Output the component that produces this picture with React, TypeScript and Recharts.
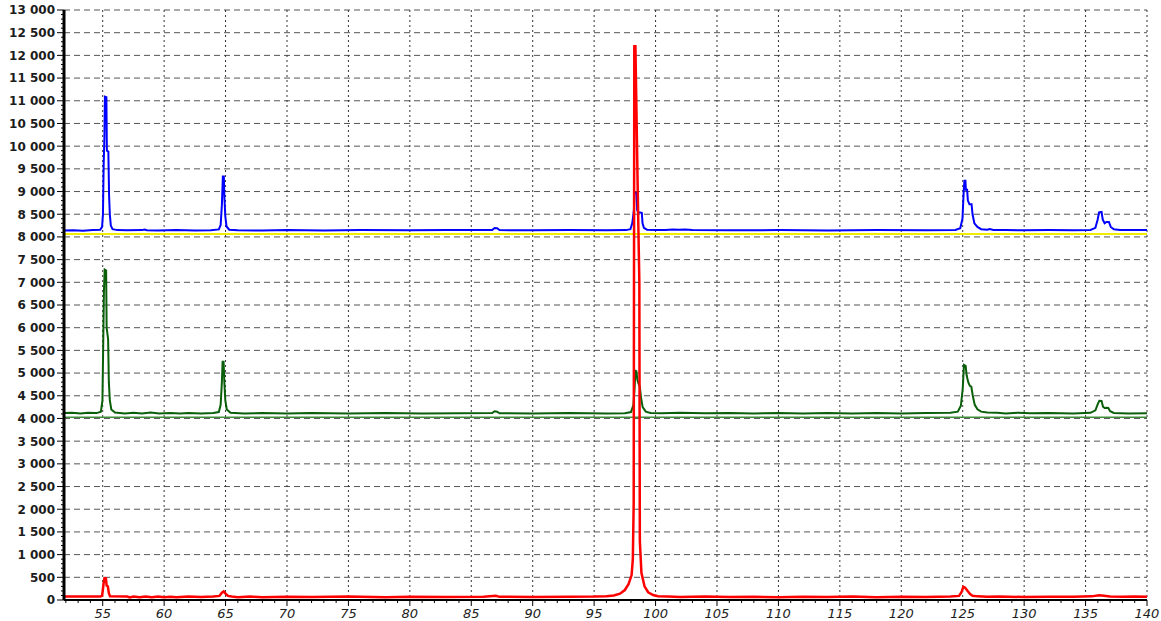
import React from 'react';
import { LineChart, Line, XAxis, YAxis, CartesianGrid, ReferenceLine } from 'recharts';

const xMajorTicks = [55, 60, 65, 70, 75, 80, 85, 90, 95, 100, 105, 110, 115, 120, 125, 130, 135, 140];
const yMajorTicks = [0, 500, 1000, 1500, 2000, 2500, 3000, 3500, 4000, 4500, 5000, 5500, 6000, 6500, 7000, 7500, 8000, 8500, 9000, 9500, 10000, 10500, 11000, 11500, 12000, 12500, 13000];

const blueSeries: [number, number][] = [
  [51.85, 8140], [52.6, 8145], [53.4, 8138], [54.2, 8150], [54.8, 8160], [54.95, 8220], [55.02, 8500], [55.08, 9600], [55.14, 10200], [55.18, 11090], [55.3, 11080], [55.34, 9900], [55.46, 9880], [55.52, 8900], [55.58, 8500], [55.66, 8250], [55.8, 8170], [56.2, 8150], [57.0, 8145], [58.2, 8150], [58.4, 8165], [58.6, 8148], [59.5, 8142], [61, 8150], [62.5, 8140], [63.8, 8148], [64.45, 8165], [64.6, 8260], [64.7, 8700], [64.78, 9330], [64.86, 9330], [64.9, 8900], [64.98, 8450], [65.08, 8230], [65.3, 8160], [66, 8148], [68, 8142], [70, 8150], [73, 8143], [76, 8150], [80, 8145], [83, 8150], [86.7, 8150], [86.9, 8195], [87.1, 8190], [87.3, 8150], [90, 8145], [93, 8150], [96, 8145], [97.6, 8150], [97.95, 8170], [98.1, 8300], [98.16, 8420], [98.24, 8600], [98.28, 8975], [98.46, 8975], [98.5, 8600], [98.58, 8540], [98.72, 8540], [98.88, 8530], [98.94, 8300], [99.05, 8200], [99.3, 8160], [100, 8150], [100.8, 8155], [101.4, 8165], [101.9, 8160], [102.4, 8165], [103, 8150], [106, 8145], [110, 8150], [114, 8142], [118, 8150], [122, 8145], [124.4, 8155], [124.8, 8190], [124.98, 8400], [125.08, 9000], [125.14, 9240], [125.22, 9240], [125.26, 9040], [125.36, 9040], [125.42, 8800], [125.55, 8720], [125.72, 8720], [125.8, 8500], [125.95, 8300], [126.2, 8220], [126.5, 8170], [127.0, 8160], [127.2, 8175], [127.5, 8155], [128.5, 8150], [130, 8148], [132, 8150], [134, 8145], [135.4, 8155], [135.8, 8200], [135.98, 8380], [136.1, 8540], [136.3, 8550], [136.4, 8380], [136.55, 8300], [136.7, 8330], [136.9, 8330], [137.05, 8220], [137.3, 8170], [137.8, 8155], [138.5, 8150], [140, 8150],
];

const greenSeries: [number, number][] = [
  [51.85, 4120], [52.5, 4125], [53.2, 4112], [53.8, 4125], [54.5, 4118], [54.85, 4150], [54.98, 4400], [55.04, 5600], [55.1, 6800], [55.16, 7280], [55.28, 7260], [55.32, 6000], [55.44, 5750], [55.5, 4800], [55.58, 4400], [55.7, 4200], [56, 4130], [56.8, 4112], [57.5, 4125], [58.2, 4110], [58.9, 4130], [59.6, 4112], [60.5, 4120], [61.3, 4108], [62, 4122], [63, 4112], [64, 4118], [64.45, 4140], [64.6, 4300], [64.7, 4800], [64.76, 5250], [64.84, 5250], [64.9, 4800], [64.98, 4400], [65.1, 4200], [65.4, 4125], [66.5, 4112], [68, 4120], [70, 4108], [72, 4118], [75, 4110], [78, 4120], [81, 4108], [84, 4115], [86.7, 4118], [86.9, 4160], [87.1, 4150], [87.3, 4115], [90, 4110], [93, 4118], [96, 4108], [97.5, 4115], [98.0, 4140], [98.2, 4300], [98.3, 4700], [98.36, 5050], [98.44, 5040], [98.52, 4850], [98.62, 4760], [98.72, 4700], [98.82, 4450], [98.95, 4250], [99.2, 4150], [99.6, 4120], [100.5, 4115], [102, 4125], [104, 4115], [106, 4120], [108, 4112], [110, 4118], [112, 4108], [114, 4120], [116, 4110], [118, 4118], [120, 4112], [122, 4120], [124, 4125], [124.6, 4150], [124.85, 4280], [125.0, 4650], [125.1, 5180], [125.24, 5160], [125.32, 4950], [125.45, 4800], [125.58, 4720], [125.7, 4700], [125.82, 4500], [125.98, 4300], [126.2, 4200], [126.5, 4150], [127, 4130], [127.8, 4125], [128.5, 4110], [129.5, 4128], [130.5, 4115], [132, 4120], [134, 4112], [135.4, 4125], [135.8, 4180], [136.0, 4320], [136.12, 4390], [136.3, 4385], [136.42, 4260], [136.55, 4230], [136.7, 4235], [136.85, 4230], [137.0, 4160], [137.3, 4120], [138.5, 4112], [140, 4115],
];

const redSeries: [number, number][] = [
  [51.85, 75], [54.8, 75], [54.95, 90], [55.0, 200], [55.08, 380], [55.14, 480], [55.26, 480], [55.32, 320], [55.42, 300], [55.5, 150], [55.6, 80], [57, 75], [57.2, 55], [57.5, 75], [58, 60], [58.5, 78], [59, 62], [59.5, 78], [60, 60], [60.5, 72], [61, 62], [62, 75], [63, 65], [64, 75], [64.5, 90], [64.7, 160], [64.85, 190], [65.0, 140], [65.2, 90], [65.5, 75], [66, 62], [67, 75], [68, 62], [70, 72], [72, 65], [75, 75], [78, 62], [80, 72], [83, 65], [86, 72], [87, 95], [87.3, 70], [90, 68], [93, 72], [95, 75], [96, 85], [96.6, 100], [97.1, 140], [97.5, 220], [97.8, 350], [98.05, 550], [98.15, 900], [98.22, 2150], [98.27, 12200], [98.36, 12200], [98.55, 9000], [98.68, 7000], [98.72, 1300], [98.85, 600], [99.1, 300], [99.4, 170], [99.8, 110], [100.2, 85], [101, 75], [102, 65], [104, 75], [106, 65], [108, 72], [110, 62], [112, 72], [114, 65], [116, 75], [118, 62], [120, 72], [122, 65], [124, 75], [124.7, 90], [124.9, 170], [125.05, 290], [125.2, 270], [125.4, 200], [125.6, 130], [125.8, 95], [126.2, 80], [127, 70], [128, 78], [130, 65], [132, 72], [134, 70], [135.5, 80], [136.1, 105], [136.5, 95], [137, 78], [138, 70], [139, 78], [140, 70],
];

const blueBaseline = 8065;
const greenBaseline = 4025;

const toRows = (s: [number, number][]) => s.map(([x, y]) => ({ x, y }));
const blueData = toRows(blueSeries);
const greenData = toRows(greenSeries);
const redData = toRows(redSeries);

const X_MIN = 51.85;
const X_MAX = 140;
const Y_MAX = 13000;

const xMinorTicks: number[] = [];
for (let v = 52; v <= 140; v++) xMinorTicks.push(v);
const yMinorTicks: number[] = [];
for (let v = 0; v <= Y_MAX; v += 100) yMinorTicks.push(v);

const fmtY = (v: number) =>
  v >= 1000 ? `${Math.floor(v / 1000)} ${String(v % 1000).padStart(3, '0')}` : String(v);

const PLOT_LEFT = 64;
const PLOT_BOTTOM = 600;
const FONT = '"DejaVu Sans", Verdana, sans-serif';

const XTick = (props: any) => {
  const { x, payload } = props;
  const v = payload.value as number;
  const major = xMajorTicks.includes(v);
  return (
    <g>
      <line x1={x} x2={x} y1={PLOT_BOTTOM} y2={PLOT_BOTTOM + (major ? 6 : 3)} stroke="#000" strokeWidth={1} />
      {major && (
        <text x={x} y={618} textAnchor="middle" fontFamily={FONT} fontSize={13} fontStyle="italic" fill="#1c1c1c">
          {v}
        </text>
      )}
    </g>
  );
};

const YTick = (props: any) => {
  const { y, payload } = props;
  const v = payload.value as number;
  const major = yMajorTicks.includes(v);
  return (
    <g>
      <line x1={PLOT_LEFT - (major ? 7 : 3)} x2={PLOT_LEFT} y1={y} y2={y} stroke="#000" strokeWidth={1} />
      {major && (
        <text x={PLOT_LEFT - 9} y={y + 4.4} textAnchor="end" fontFamily={FONT} fontSize={12} fontWeight="bold" fill="#1c1c1c">
          {fmtY(v)}
        </text>
      )}
    </g>
  );
};

export default function App() {
  return (
    <div style={{ position: 'absolute', left: 0, top: 0, width: 1161, height: 621, background: '#fff' }}>
      <LineChart width={1161} height={621} margin={{ top: 10, right: 14, bottom: 0, left: 0 }}>
        <CartesianGrid
          vertical={false}
          horizontalValues={yMajorTicks.filter((v) => v > 0)}
          stroke="#555"
          strokeDasharray="6 4"
          strokeWidth={1}
        />
        <CartesianGrid
          horizontal={false}
          verticalValues={xMajorTicks}
          stroke="#333"
          strokeDasharray="2 3"
          strokeWidth={1}
        />
        <XAxis
          type="number"
          dataKey="x"
          domain={[X_MIN, X_MAX]}
          allowDataOverflow
          ticks={xMinorTicks}
          interval={0}
          height={21}
          tickLine={false}
          tickSize={0}
          tickMargin={0}
          axisLine={{ stroke: '#000', strokeWidth: 2 }}
          tick={<XTick />}
        />
        <YAxis
          type="number"
          dataKey="y"
          domain={[0, Y_MAX]}
          allowDataOverflow
          ticks={yMinorTicks}
          interval={0}
          width={64}
          tickLine={false}
          tickSize={0}
          tickMargin={0}
          axisLine={{ stroke: '#000', strokeWidth: 3 }}
          tick={<YTick />}
        />
        <ReferenceLine y={blueBaseline} stroke="#f2ec00" strokeWidth={2} />
        <ReferenceLine y={greenBaseline} stroke="#3f8f3f" strokeWidth={1.5} />
        <Line data={blueData} dataKey="y" type="linear" stroke="#0000ff" strokeWidth={2} dot={false} isAnimationActive={false} />
        <Line data={greenData} dataKey="y" type="linear" stroke="#0a5f0a" strokeWidth={2} dot={false} isAnimationActive={false} />
        <Line data={redData} dataKey="y" type="linear" stroke="#ff0000" strokeWidth={2.5} dot={false} isAnimationActive={false} />
      </LineChart>
    </div>
  );
}
